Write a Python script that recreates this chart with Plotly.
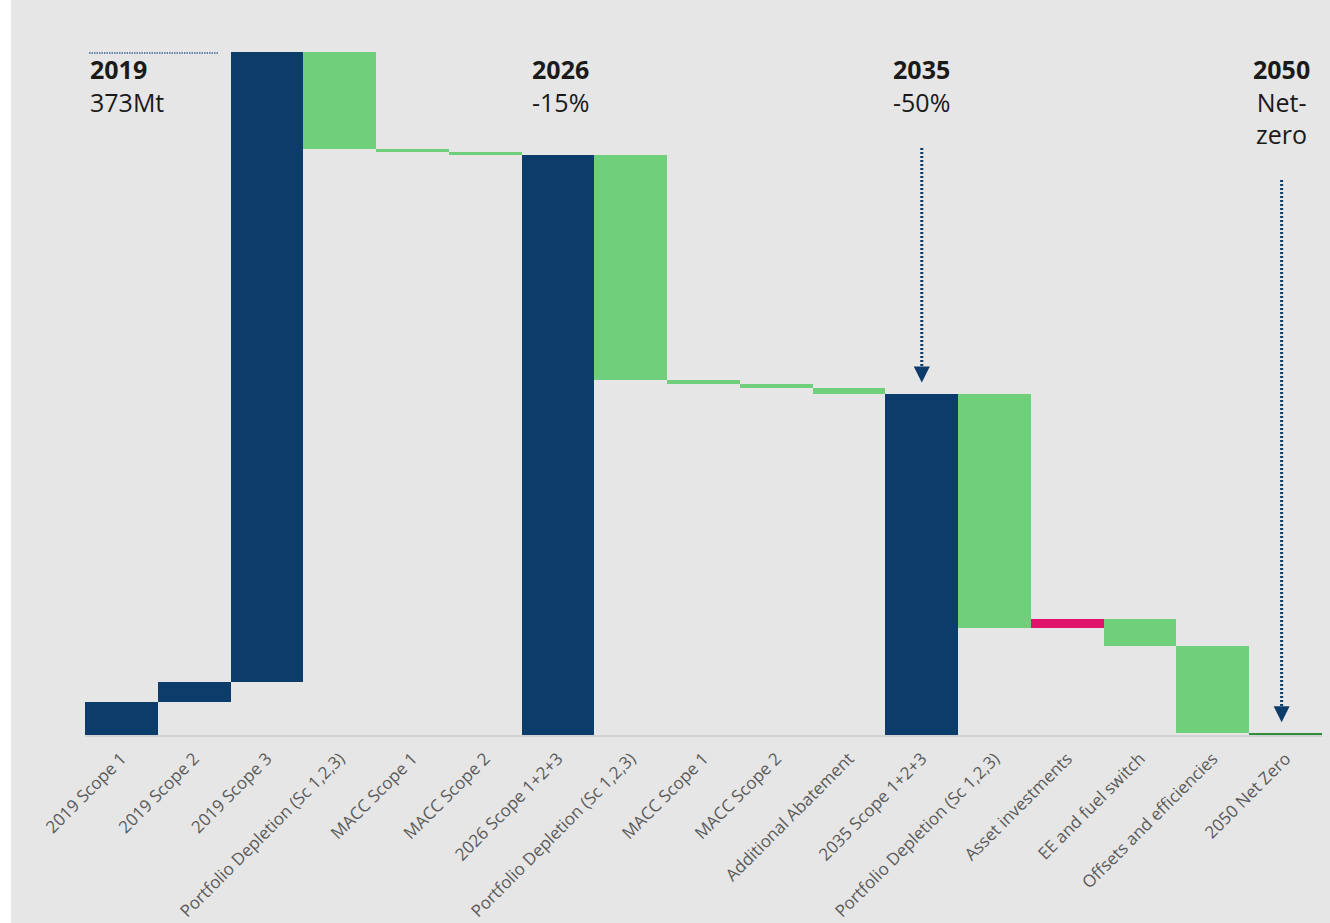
import plotly.graph_objects as go

# Emissions bridge 2019 -> 2050 (Mt CO2e)
categories = [
    "2019 Scope 1", "2019 Scope 2", "2019 Scope 3",
    "Portfolio Depletion (Sc 1,2,3)", "MACC Scope 1", "MACC Scope 2",
    "2026 Scope 1+2+3",
    "Portfolio Depletion (Sc 1,2,3) ", "MACC Scope 1 ", "MACC Scope 2 ",
    "Additional Abatement",
    "2035 Scope 1+2+3",
    "Portfolio Depletion (Sc 1,2,3)  ", "Asset investments",
    "EE and fuel switch", "Offsets and efficiencies",
    "2050 Net Zero",
]
tick_labels = [c.strip() for c in categories]
measures = [
    "stack", "stack", "stack",
    "relative", "relative", "relative",
    "total",
    "relative", "relative", "relative", "relative",
    "total",
    "relative", "relative", "relative", "relative",
    "final",
]
values = [
    18, 11, 344,
    -53, -1.5, -1.5,
    None,
    -123, -2.5, -2, -3,
    None,
    -128, 5, -15, -47.5,
    None,
]

milestone_years = ["2019", "2026", "2035", "2050"]
milestone_notes = ["373Mt", "-15%", "-50%", "Net-<br>zero"]

NAVY = "#0c3c6a"
GREEN = "#6fcf7b"
RED = "#e2136b"
DARK_GREEN = "#2f8c3a"
BG = "#e6e6e6"

# running totals -> bar base / height
bases, heights, colors = [], [], []
running = 0.0
for m, v in zip(measures, values):
    if m in ("total", "final"):
        bases.append(0)
        heights.append(running)
        colors.append(NAVY if m == "total" else DARK_GREEN)
    else:
        bases.append(running)
        heights.append(v)
        if m == "stack":
            colors.append(NAVY)
        else:
            colors.append(GREEN if v < 0 else RED)
        running += v
totals = {c: h for c, h, m in zip(categories, heights, measures) if m in ("total", "final")}
start_total = sum(v for v, m in zip(values, measures) if m == "stack")

fig = go.Figure(
    go.Bar(
        x=categories,
        y=heights,
        base=bases,
        marker=dict(color=colors, line=dict(width=0)),
        width=1.0,
        hoverinfo="skip",
    )
)

W, H = 1330, 923
ML, MR, MT, MB = 85, 8, 52, 188
PW, PH = W - ML - MR, H - MT - MB
YMAX = start_total
SLOT = PW / len(categories)


def py(pix):
    """Paper y for a pixel row."""
    return (H - MB - pix) / PH


def px(pix):
    """Paper x for a pixel column."""
    return (pix - ML) / PW


def cat_pos(cat, shift_px=0):
    """Numeric position on the category axis, nudged by some pixels."""
    return categories.index(cat) + shift_px / SLOT


annotations = []
shapes = []

# milestone headings
text_font = dict(family="Open Sans", size=25, color="#1a1a1a")
anchors = [None, "2026 Scope 1+2+3", "2035 Scope 1+2+3", "2050 Net Zero"]
shifts = [0, 3, 0, -4]
for year, note, cat, sh in zip(milestone_years, milestone_notes, anchors, shifts):
    if cat is None:
        pos = dict(xref="paper", x=px(88), xanchor="left", align="left")
    else:
        pos = dict(xref="x", x=cat_pos(cat, sh), xanchor="center", align="center")
    annotations.append(dict(text=f"<b>{year}</b><br>{note}", yref="paper", y=py(50),
                            yanchor="top", showarrow=False, font=text_font, **pos))

# dotted reference line at the 2019 level
shapes.append(dict(type="line", xref="paper", x0=px(89), x1=px(219),
                   yref="y", y0=start_total - 0.5, y1=start_total - 0.5,
                   line=dict(color="#3d6797", width=1.5, dash="1.5px,1px")))

# dotted arrows pointing at the 2035 and 2050 totals
UNIT = PH / YMAX
for cat, top_val, xs in [("2035 Scope 1+2+3", 320.6, 0), ("2050 Net Zero", 303.1, -4)]:
    tip = totals[cat] + 6
    head_back = tip + 16 / UNIT
    xc = cat_pos(cat, xs)
    shapes.append(dict(type="line", xref="x", x0=xc, x1=xc, yref="y",
                       y0=top_val, y1=head_back,
                       line=dict(color=NAVY, width=3, dash="2px,2px")))
    annotations.append(dict(x=xc, y=tip, xref="x", yref="y", text="",
                            showarrow=True, ax=0, ay=-16, arrowhead=2,
                            arrowsize=1.07, arrowwidth=3, arrowcolor=NAVY, standoff=0))

# white margin strip on the far left
shapes.append(dict(type="rect", xref="paper", yref="paper", x0=px(0), x1=px(11),
                   y0=py(H), y1=py(0), fillcolor="white", line=dict(width=0), layer="below"))

fig.update_layout(
    width=W, height=H,
    margin=dict(l=ML, r=MR, t=MT, b=MB, pad=0, autoexpand=False),
    paper_bgcolor=BG, plot_bgcolor=BG,
    bargap=0, showlegend=False,
    annotations=annotations, shapes=shapes,
    font=dict(family="Open Sans"),
    xaxis=dict(
        tickmode="array", tickvals=categories, ticktext=tick_labels,
        tickangle=-45, tickfont=dict(family="Open Sans", size=17, color="#5a5a5a"),
        ticklabelstandoff=5, automargin=False,
        showline=True, linecolor="#d2d2d2", linewidth=2, showgrid=False,
        ticks="", zeroline=False, fixedrange=True,
    ),
    yaxis=dict(range=[0, YMAX], visible=False, showgrid=False, zeroline=False,
               fixedrange=True, automargin=False),
)

fig.write_html("out.html")
